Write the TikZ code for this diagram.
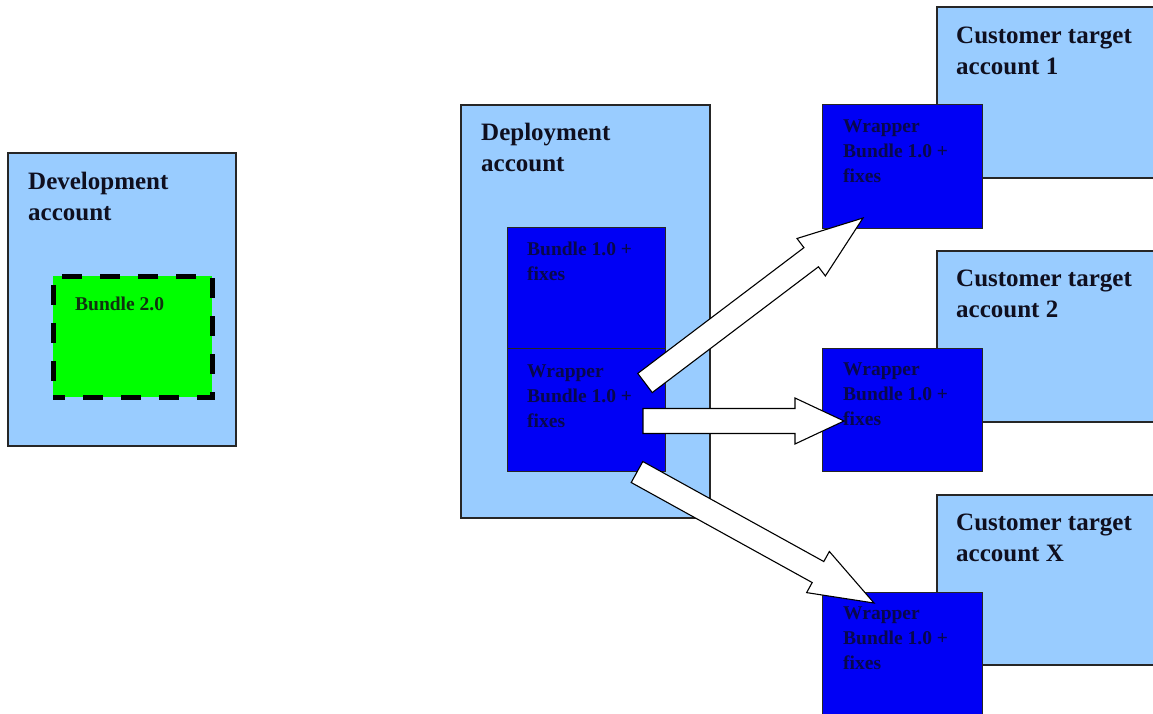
\documentclass[tikz,border=0pt]{standalone}
\usepackage{fontspec}
\setmainfont{Liberation Serif}
\usetikzlibrary{calc}

\definecolor{acctblue}{HTML}{99CCFF}
\definecolor{bundleblue}{rgb}{0,0,0.96}
\definecolor{bundlegreen}{HTML}{00FF00}
\definecolor{headink}{rgb}{0.06,0.06,0.12}
\definecolor{bundleink}{rgb}{0.03,0.03,0.3}
\definecolor{greenink}{rgb}{0.06,0.2,0.06}

\tikzset{
  arrHead/.store in=\arrHeadLen, arrHead=50pt,
  arrShaft/.store in=\arrShaftHalf, arrShaft=12pt,
  arrWing/.store in=\arrWingHalf, arrWing=23.5pt,
  % wide hollow block arrow drawn between two named points
  blockarrow/.style={draw=black, fill=white, line width=1.1pt, line join=miter,
    to path={let \p1=(\tikztostart), \p2=(\tikztotarget),
      \p3=($(\p2)!\arrHeadLen!(\p1)$) in
      ($(\p1)!\arrShaftHalf!90:(\p2)$) -- ($(\p3)!\arrShaftHalf!-90:(\p1)$)
      -- ($(\p3)!\arrWingHalf!-90:(\p1)$) -- (\p2)
      -- ($(\p3)!\arrWingHalf!90:(\p1)$) -- ($(\p3)!\arrShaftHalf!90:(\p1)$)
      -- ($(\p1)!\arrShaftHalf!-90:(\p2)$) -- cycle}},
  box/.style={rectangle, anchor=north west, inner sep=0pt, outer sep=0pt},
  acctbox/.style={box, fill=acctblue, draw=black!85, line width=1.1pt},
  bundlebox/.style={box, fill=bundleblue, draw=black!85, line width=0.9pt},
  devbundle/.style={box, fill=bundlegreen, draw=black, line width=5pt,
    dash pattern=on 20pt off 18pt, dash phase=8pt},
  hdr/.style={anchor=north west, inner sep=0pt, align=left, text=headink,
    font=\bfseries\fontsize{25}{31}\selectfont,
    execute at begin node={\rule{0pt}{18pt}}},
  sml/.style={anchor=north west, inner sep=0pt, align=left, text=bundleink,
    font=\bfseries\fontsize{19.5}{25}\selectfont,
    execute at begin node={\rule{0pt}{15pt}}},
}

\begin{document}
\begin{tikzpicture}[x=1pt,y=-1pt]
\useasboundingbox (0,0) rectangle (1153,714);
\clip (0,0) rectangle (1153,714);

% development account
\node[acctbox, minimum width=228pt, minimum height=293pt] (dev) at (8,153) {};
\node[hdr] (devT) at (28,172) {Development\\account};
\node[devbundle, minimum width=159pt, minimum height=121pt] (b2) at (53,276) {};
\node[sml, text=greenink] (b2T) at (75,295) {Bundle 2.0};

% deployment account
\node[acctbox, minimum width=249pt, minimum height=413pt] (dep) at (461,105) {};
\node[hdr] (depT) at (481,123) {Deployment\\account};
\node[bundlebox, minimum width=158pt, minimum height=121pt] (b1) at (507,227) {};
\node[sml] (b1T) at (527,242) {Bundle 1.0 +\\fixes};
\node[bundlebox, minimum width=158pt, minimum height=123pt] (wd) at (507,348) {};
\node[sml] (wdT) at (527,365) {Wrapper\\Bundle 1.0 +\\fixes};

% customer target accounts
\node[acctbox, minimum width=228pt, minimum height=171pt] (c1) at (937,7) {};
\node[hdr] (c1T) at (956,27) {Customer target\\account 1};
\node[bundlebox, minimum width=160pt, minimum height=124pt] (w1) at (822,104) {};
\node[sml] (w1T) at (843,120) {Wrapper\\Bundle 1.0 +\\fixes};

\node[acctbox, minimum width=228pt, minimum height=171pt] (c2) at (937,251) {};
\node[hdr] (c2T) at (956,270) {Customer target\\account 2};
\node[bundlebox, minimum width=160pt, minimum height=123pt] (w2) at (822,348) {};
\node[sml] (w2T) at (843,363) {Wrapper\\Bundle 1.0 +\\fixes};

\node[acctbox, minimum width=228pt, minimum height=170pt] (cx) at (937,495) {};
\node[hdr] (cxT) at (956,514) {Customer target\\account X};
\node[bundlebox, minimum width=160pt, minimum height=126pt] (wx) at (822,592) {};
\node[sml] (wxT) at (843,607) {Wrapper\\Bundle 1.0 +\\fixes};

% arrow end points
\coordinate (s1) at (645,383);
\coordinate (t1) at (863,218);
\coordinate (s2) at (643,421);
\coordinate (t2) at (844,421);
\coordinate (s3) at (637,472);
\coordinate (t3) at (874,603);

% distribution arrows
\draw[blockarrow, arrHead=65pt] (s1) to (t1);
\draw[blockarrow, arrHead=49pt, arrShaft=12.5pt, arrWing=23pt] (s2) to (t2);
\draw[blockarrow, arrHead=64pt] (s3) to (t3);
\end{tikzpicture}
\end{document}
